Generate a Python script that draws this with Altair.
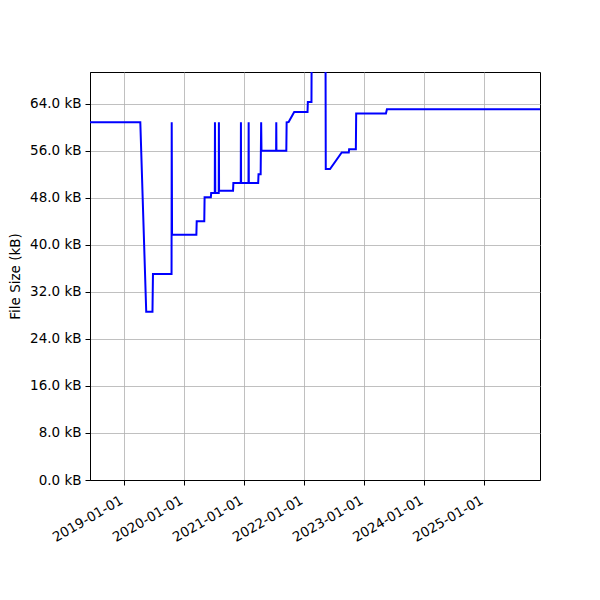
import altair as alt
import pandas as pd

# (date, size in kB)
DATES = [
    "2018-06-09", "2019-04-11", "2019-05-17", "2019-06-24", "2019-06-27",
    "2019-10-18", "2019-10-19", "2019-10-21", "2020-03-17", "2020-03-19",
    "2020-05-04", "2020-05-06", "2020-06-13", "2020-06-15", "2020-07-07",
    "2020-07-08", "2020-07-10", "2020-07-31", "2020-08-01", "2020-08-02",
    "2020-10-26", "2020-10-28", "2020-12-12", "2020-12-13", "2020-12-14",
    "2021-01-28", "2021-01-29", "2021-01-30", "2021-03-28", "2021-03-30",
    "2021-04-12", "2021-04-15", "2021-04-17", "2021-07-15", "2021-07-16",
    "2021-07-17", "2021-09-15", "2021-09-17", "2021-09-29", "2021-11-02",
    "2022-01-22", "2022-01-24", "2022-02-15", "2022-02-17", "2022-05-11",
    "2022-05-13", "2022-06-08", "2022-08-18", "2022-09-30", "2022-10-02",
    "2022-11-12", "2022-11-14", "2023-05-14", "2023-05-20", "2025-12-06",
]
SIZES_KB = [
    60.85, 60.85, 28.6, 28.6, 35.06,
    35.06, 60.85, 41.7, 41.7, 44.0,
    44.0, 48.1, 48.1, 48.8, 48.8,
    60.85, 48.8, 48.8, 60.85, 49.2,
    49.2, 50.5, 50.5, 60.85, 50.5,
    50.5, 60.85, 50.5, 50.5, 52.0,
    52.0, 60.85, 56.0, 56.0, 60.85,
    56.0, 56.0, 60.85, 60.9, 62.6,
    62.6, 64.3, 64.3, 80.0, 80.0,
    52.9, 52.9, 55.7, 55.7, 56.25,
    56.25, 62.35, 62.35, 63.07, 63.07,
]
Y_TICKS = [0, 8, 16, 24, 32, 40, 48, 56, 64]
Y_MAX = 69.4

FONT = "DejaVu Sans"

df = pd.DataFrame({"date": DATES, "size": SIZES_KB})

line = (
    alt.Chart(df)
    .mark_line(color="#0000ff", strokeWidth=2, clip=True)
    .encode(
        x=alt.X(
            "date:T",
            title=None,
            scale=alt.Scale(
                type="utc",
                domain=[
                    alt.DateTime(year=2018, month=6, date=9, utc=True),
                    alt.DateTime(year=2025, month=12, date=6, utc=True),
                ],
            ),
            axis=alt.Axis(
                tickCount={"interval": "year", "step": 1},
                labelExpr="utcFormat(datum.value, '%Y-%m-%d')",
                labelAngle=330,
                labelAlign="right",
                labelBaseline="top",
                labelOverlap=False,
                labelOffset=-6,
                labelPadding=8,
            ),
        ),
        y=alt.Y(
            "size:Q",
            title="File Size (kB)",
            scale=alt.Scale(domain=[0, Y_MAX], nice=False, zero=True),
            axis=alt.Axis(
                values=Y_TICKS,
                labelExpr="format(datum.value, '.1f') + ' kB'",
                titlePadding=7,
                labelPadding=4,
            ),
        ),
    )
)

chart = (
    line.properties(
        width=450,
        height=408,
        autosize=alt.AutoSizeParams(type="none"),
        padding={"left": 82, "top": 64, "right": 52, "bottom": 112},
        background="white",
    )
    .configure_axis(
        grid=True,
        gridColor="#b0b0b0",
        gridWidth=0.8,
        domainColor="black",
        domainWidth=1,
        tickColor="black",
        tickSize=5,
        tickWidth=1,
        labelColor="black",
        labelFont=FONT,
        labelFontSize=13.5,
        titleFont=FONT,
        titleFontSize=13.5,
        titleFontWeight="normal",
        titleColor="black",
    )
    .configure_view(stroke="black", strokeWidth=1)
)

chart.save("out.html", embed_options={"renderer": "svg", "actions": False})
